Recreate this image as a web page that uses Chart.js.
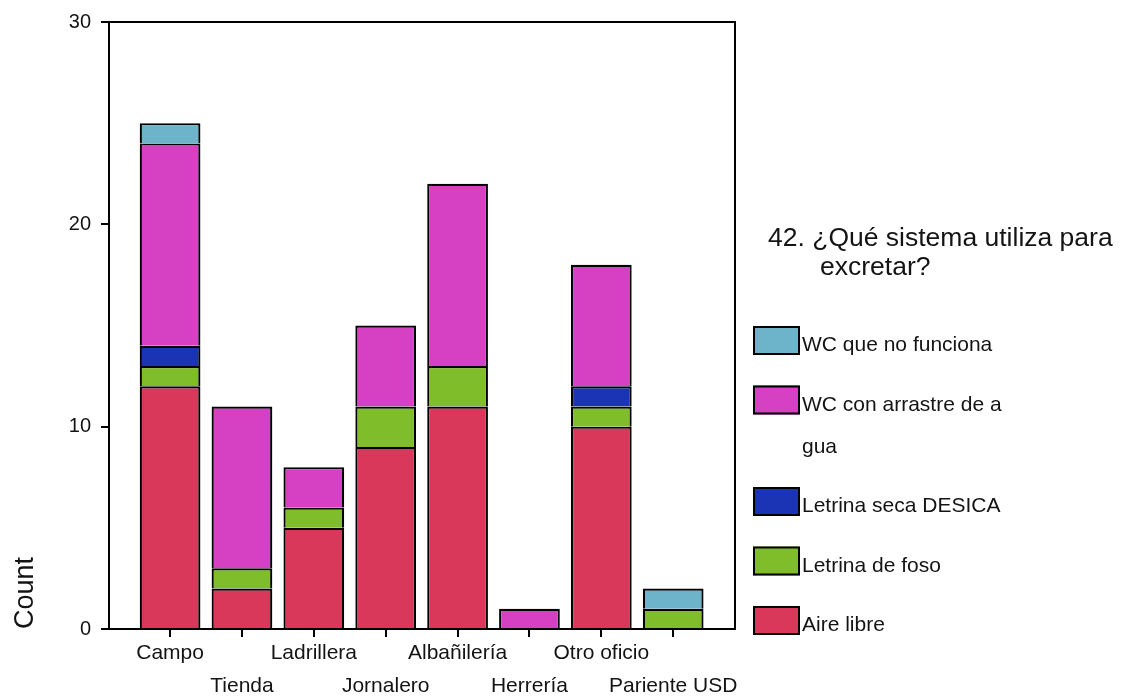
<!DOCTYPE html>
<html><head><meta charset="utf-8">
<script src="https://cdn.jsdelivr.net/npm/chart.js@4/dist/chart.umd.min.js"></script>
<style>html,body{margin:0;padding:0;background:#fff}</style>
</head><body>
<canvas id="c" width="1130" height="699"></canvas>
<script>
// ---- data ----
const categories = ['Campo','Tienda','Ladrillera','Jornalero','Albañilería','Herrería','Otro oficio','Pariente USD'];
const aireLibre    = [12, 2, 5, 9, 11, 0, 10, 0];
const letrinaFoso  = [ 1, 1, 1, 2,  2, 0,  1, 1];
const letrinaSeca  = [ 1, 0, 0, 0,  0, 0,  1, 0];
const wcArrastre   = [10, 8, 2, 4,  9, 1,  6, 0];
const wcNoFunciona = [ 1, 0, 0, 0,  0, 0,  0, 1];
const seriesNames  = ['Aire libre','Letrina de foso','Letrina seca DESICA','WC con arrastre de agua','WC que no funciona'];
const legendLines  = [['Aire libre'],['Letrina de foso'],['Letrina seca DESICA'],['WC con arrastre de a','gua'],['WC que no funciona']];
const legendTitle  = ['42. ¿Qué sistema utiliza para','excretar?'];
const yTicks       = [0, 10, 20, 30];
const yTitle       = 'Count';

// ---- styles ----
const colors = ['#d9385b','#80bd2a','#1b33b5','#d640c2','#6db4cb'];
const FONT = '"Liberation Sans", Arial, Helvetica, sans-serif';
const TXT = '#141414';

const seriesValues = [aireLibre, letrinaFoso, letrinaSeca, wcArrastre, wcNoFunciona];
const datasets = seriesValues.map((vals, k) => ({
  label: seriesNames[k],
  data: vals.map((v, i) => ({x: i, y: v === 0 ? null : v})),
  backgroundColor: colors[k],
  borderColor: '#000',
  borderWidth: 2.2,
  categoryPercentage: 1,
  barPercentage: 0.845
}));

const framePlugin = {
  id: 'frame',
  afterDraw(chart) {
    const {ctx, chartArea: a} = chart;
    ctx.save();
    ctx.strokeStyle = '#000';
    ctx.lineWidth = 2;
    ctx.beginPath();
    ctx.moveTo(a.left, a.top);
    ctx.lineTo(a.right, a.top);
    ctx.lineTo(a.right, a.bottom);
    ctx.stroke();
    ctx.restore();
  }
};

const sideLegend = {
  id: 'sideLegend',
  afterDraw(chart) {
    const {ctx, chartArea: a} = chart;
    const bx = a.right + 18;
    ctx.save();
    ctx.fillStyle = TXT;
    ctx.textBaseline = 'alphabetic';
    ctx.textAlign = 'left';
    ctx.font = '26.5px ' + FONT;
    ctx.fillText(legendTitle[0], bx + 15, a.top + 224);
    ctx.fillText(legendTitle[1], bx + 67, a.top + 253);
    ctx.font = '21px ' + FONT;
    let y = a.top + 304;
    for (let di = chart.data.datasets.length - 1; di >= 0; di--) {
      const ds = chart.data.datasets[di];
      ctx.fillStyle = ds.backgroundColor;
      ctx.fillRect(bx, y, 47, 29);
      ctx.strokeStyle = '#000';
      ctx.lineWidth = 2;
      ctx.strokeRect(bx + 1, y + 1, 45, 27);
      ctx.fillStyle = TXT;
      const lines = legendLines[di];
      lines.forEach((ln, k) => ctx.fillText(ln, bx + 49, y + 25 + k * 42));
      y += 59.5 + (lines.length - 1) * 42;
    }
    ctx.restore();
  }
};

new Chart(document.getElementById('c'), {
  type: 'bar',
  data: { datasets },
  plugins: [framePlugin, sideLegend],
  options: {
    responsive: false,
    devicePixelRatio: 1,
    animation: false,
    layout: { padding: { top: 19, right: 395, bottom: 0, left: 0 } },
    plugins: { legend: { display: false }, tooltip: { enabled: false } },
    scales: {
      x: {
        type: 'linear',
        stacked: true,
        offset: false,
        min: -0.85,
        max: 7.86,
        afterBuildTicks: s => { s.ticks = categories.map((c, i) => ({ value: i })); },
        afterFit: s => { s.height = 70; },
        ticks: {
          autoSkip: false,
          maxRotation: 0,
          minRotation: 0,
          padding: 0,
          color: TXT,
          font: { family: FONT, size: 21, lineHeight: 33 / 21 },
          callback: (v) => { const i = Math.round(v); return i % 2 ? ['', categories[i]] : categories[i]; }
        },
        grid: { offset: false, drawOnChartArea: false, tickLength: 8, color: '#000', lineWidth: 2 },
        border: { color: '#000', width: 2 }
      },
      y: {
        stacked: true,
        min: 0,
        max: 30,
        afterBuildTicks: s => { s.ticks = yTicks.map(v => ({ value: v })); },
        afterFit: s => { s.width = 109; },
        ticks: { padding: 10, color: TXT, font: { family: FONT, size: 20 } },
        grid: { drawOnChartArea: false, tickLength: 8, color: '#000', lineWidth: 2 },
        border: { color: '#000', width: 2 },
        title: {
          display: true, text: yTitle, align: 'start', color: TXT,
          font: { family: FONT, size: 27 }, padding: { top: 9, bottom: 0 }
        }
      }
    }
  }
});
</script>
</body></html>
